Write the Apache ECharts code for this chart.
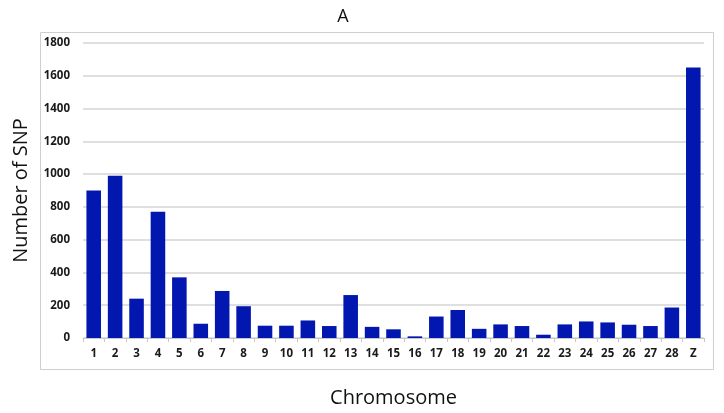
<!DOCTYPE html>
<html>
<head>
<meta charset="utf-8">
<script src="https://cdn.jsdelivr.net/npm/echarts@6/dist/echarts.min.js"></script>
<style>
  html, body { margin: 0; padding: 0; background: #fff; }
  #box1 { width: 724px; height: 413px; }
</style>
</head>
<body>
<div id="box1"></div>
<script>
var myChart = echarts.init(document.getElementById('box1'))

// chromosomes and SNP counts
let chromosomes = ['1', '2', '3', '4', '5', '6', '7', '8', '9', '10', '11', '12', '13', '14', '15',
    '16', '17', '18', '19', '20', '21', '22', '23', '24', '25', '26', '27', '28', 'Z'];
let snpCounts = [900, 990, 240, 770, 370, 87, 287, 194, 75, 75, 107, 73, 262, 68, 53,
    10, 131, 171, 56, 83, 73, 20, 83, 101, 95, 81, 73, 186, 1650];
let yTicks = [0, 200, 400, 600, 800, 1000, 1200, 1400, 1600, 1800];

option = {
    backgroundColor: '#fff',
    title: {
        text: 'A',
        left: 338,
        top: 3,
        textAlign: 'center',
        textStyle: {
            fontFamily: 'Open Sans',
            fontWeight: 'normal',
            fontSize: 18,
            color: '#111'
        }
    },
    graphic: [
        {
            type: 'rect',
            shape: { x: 40.5, y: 32.5, width: 673, height: 337 },
            style: { fill: 'none', stroke: '#cfcfcf', lineWidth: 1 },
            z: -1
        }
    ],
    grid: {
        left: 83,
        right: 20,
        top: 43,
        bottom: 72
    },
    xAxis: {
        type: 'category',
        data: chromosomes,
        name: 'Chromosome',
        nameLocation: 'middle',
        nameGap: 50,
        nameTextStyle: {
            fontFamily: 'Open Sans',
            fontSize: 20,
            color: '#111'
        },
        axisLine: { lineStyle: { color: '#c8c8c8', width: 1 } },
        axisTick: { show: true, length: 4, lineStyle: { color: '#c8c8c8' } },
        axisLabel: {
            margin: 10,
            fontFamily: 'Open Sans',
            fontWeight: 'bold',
            fontSize: 11.5,
            color: '#1a1a1a'
        }
    },
    yAxis: {
        type: 'value',
        min: 0,
        max: 1800,
        interval: 200,
        name: 'Number of SNP',
        nameLocation: 'middle',
        nameGap: 52,
        nameTextStyle: {
            fontFamily: 'Open Sans',
            fontSize: 20,
            color: '#111'
        },
        axisLine: { show: false },
        axisTick: { show: false },
        axisLabel: {
            margin: 13,
            fontFamily: 'Open Sans',
            fontWeight: 'bold',
            fontSize: 11.5,
            color: '#1a1a1a',
            formatter: function (v) {
                return yTicks.indexOf(v) >= 0 ? String(v) : '';
            }
        },
        splitLine: {
            show: true,
            lineStyle: { color: '#d4d4d4', width: 1.5 }
        }
    },
    series: [
        {
            name: 'SNP',
            type: 'bar',
            data: snpCounts,
            barCategoryGap: '32%',
            itemStyle: { color: '#0217b0' },
            animation: false
        }
    ]
};
myChart.setOption(option);
</script>
</body>
</html>
